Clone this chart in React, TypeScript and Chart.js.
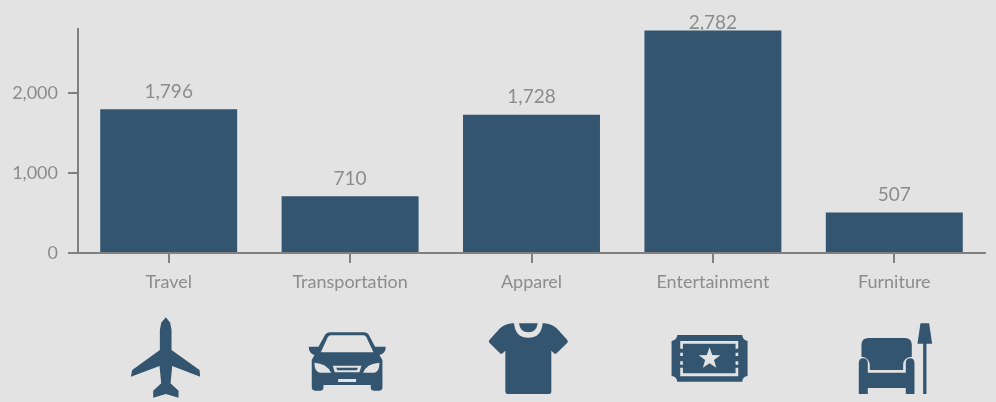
import React, { useEffect, useRef } from "react";
import { Chart, registerables } from "chart.js";

Chart.register(...registerables);

const categories = ["Travel", "Transportation", "Apparel", "Entertainment", "Furniture"];
const amounts = [1796, 710, 1728, 2782, 507];
const yTicks = [0, 1000, 2000];

const BG = "#e3e3e3";
const BAR = "#33556f";
const AXIS = "#808080";
const TEXT = "#8c8c8c";
const FONT = "Lato";

type Layer = { d: string; c: string };
type Icon = { anchor: number; layers: Layer[] };

const starPath = (() => {
  const cx = 749, cy = 176, R = 34, r = 14;
  let d = "";
  for (let i = 0; i < 10; i++) {
    const a = -Math.PI / 2 + (i * Math.PI) / 5;
    const q = i % 2 ? r : R;
    d += `${i ? "L" : "M"}${cx + q * Math.cos(a)},${cy + q * Math.sin(a)} `;
  }
  return d + "Z";
})();

const icons: Icon[] = [
  {
    anchor: 205.5,
    layers: [
      {
        c: BAR,
        d: "M197,52 L183,68 L179,90 L179,150 L96,210 L92,230 L178,198 L183,250 L159,272 L159,293 L197,282 L235,293 L235,272 L211,250 L216,198 L300,230 L298,210 L214,150 L214,90 L210,68 Z",
      },
    ],
  },
  {
    anchor: 750,
    layers: [
      {
        c: BAR,
        d: "M690,97 L792,97 Q803,97 808,108 L825,140 L857,140 Q857,160 838,165 L847,180 L847,262 Q847,272 838,272 L820,272 Q812,272 812,262 L812,255 L670,255 L670,262 Q670,272 662,272 L645,272 Q635,272 635,262 L635,180 L643,165 Q626,160 626,140 L655,140 L673,108 Q678,97 690,97 Z",
      },
      { c: BG, d: "M692,106 L790,106 Q796,106 799,112 L820,157 L662,157 L683,112 Q686,106 692,106 Z" },
      { c: BG, d: "M643,188 Q680,190 693,218 L660,218 Q643,215 643,188 Z" },
      { c: BG, d: "M838,188 Q800,190 789,218 L822,218 Q838,215 838,188 Z" },
      { c: BG, d: "M698,197 L784,197 L778,217 L704,217 Z" },
      { c: BAR, d: "M708,203 L774,203 L770,211 L712,211 Z" },
      { c: BG, d: "M714,237 L768,237 L768,246 L714,246 Z" },
    ],
  },
  {
    anchor: 214.5,
    layers: [
      {
        c: BAR,
        d: "M158,70 Q135,72 120,85 L88,120 Q85,125 88,128 L120,160 Q125,163 128,160 L136,152 L136,275 Q136,282 143,282 L267,282 Q274,282 274,275 L274,152 L282,160 Q285,163 290,160 L322,128 Q325,125 322,120 L290,85 Q275,72 252,70 Z",
      },
      { c: BG, d: "M162,68 Q165,113 205,113 Q245,113 248,68 Z" },
      { c: BAR, d: "M177,70 Q180,97 205,97 Q230,97 233,70 Z" },
    ],
  },
  {
    anchor: 759,
    layers: [
      {
        c: BAR,
        d: "M652,105 L847,105 Q848,120 863,123 L863,228 Q848,230 847,245 L652,245 Q651,230 635,228 L635,123 Q651,120 652,105 Z",
      },
      {
        c: BG,
        d: "M661,123 L835,123 L835,146 L827,146 L827,131 L669,131 L669,146 L661,146 Z M661,203 L669,203 L669,220 L827,220 L827,203 L835,203 L835,229 L661,229 Z M661,158 L669,158 L669,168 L661,168 Z M661,184 L669,184 L669,194 L661,194 Z M827,158 L835,158 L835,168 L827,168 Z M827,184 L835,184 L835,194 L827,194 Z",
      },
      { c: BG, d: starPath },
    ],
  },
  {
    anchor: 1303.5,
    layers: [
      {
        c: BAR,
        d: "M1205,170 L1205,135 Q1205,114 1226,114 L1335,114 Q1356,114 1356,135 L1356,170 Q1330,172 1330,195 L1330,210 L1230,210 L1230,195 Q1228,172 1205,170 Z",
      },
      {
        c: BAR,
        d: "M1197,190 Q1197,175 1210,175 Q1224,175 1224,190 L1224,218 L1338,218 L1338,190 Q1338,175 1351,175 Q1364,175 1364,190 L1364,282 L1338,282 L1338,264 L1224,264 L1224,282 L1197,282 Z",
      },
      { c: BAR, d: "M1382,70 L1408,70 L1417,131 L1373,131 Z M1390,131 L1400,131 L1400,282 L1390,282 Z" },
    ],
  },
];

const valueLabels = {
  id: "valueLabels",
  afterDatasetsDraw(chart: any) {
    const { ctx, chartArea } = chart;
    const meta = chart.getDatasetMeta(0);
    ctx.save();
    ctx.font = `400 19px ${FONT}`;
    ctx.fillStyle = TEXT;
    ctx.textAlign = "center";
    ctx.textBaseline = "alphabetic";
    meta.data.forEach((bar: any, i: number) => {
      ctx.fillText(amounts[i].toLocaleString("en-US"), bar.x, Math.max(bar.y - 11.5, chartArea.top));
    });
    ctx.restore();
  },
};

const categoryIcons = {
  id: "categoryIcons",
  afterDraw(chart: any) {
    const { ctx, scales, chartArea } = chart;
    icons.forEach((icon, i) => {
      ctx.save();
      ctx.translate(scales.x.getPixelForTick(i), chartArea.bottom + 47);
      ctx.scale(1 / 3, 1 / 3);
      ctx.translate(-icon.anchor, 0);
      icon.layers.forEach((l) => {
        ctx.fillStyle = l.c;
        ctx.fill(new Path2D(l.d));
      });
      ctx.restore();
    });
  },
};

export default function App() {
  const ref = useRef<HTMLCanvasElement>(null);
  useEffect(() => {
    document.body.style.margin = "0";
    document.body.style.background = BG;
    const chart = new Chart(ref.current!, {
      type: "bar",
      data: {
        labels: categories,
        datasets: [
          {
            data: amounts,
            backgroundColor: BAR,
            barPercentage: 0.755,
            categoryPercentage: 1,
          },
        ],
      },
      plugins: [valueLabels, categoryIcons],
      options: {
        animation: false,
        responsive: false,
        devicePixelRatio: 1,
        layout: { padding: { top: 29, right: 11, left: 0, bottom: 0 } },
        plugins: { legend: { display: false }, title: { display: false }, tooltip: { enabled: false } },
        scales: {
          x: {
            afterFit: (s: any) => {
              s.height = 149;
            },
            border: { color: AXIS, width: 2 },
            grid: { offset: false, drawOnChartArea: false, drawTicks: true, tickLength: 10, color: AXIS, lineWidth: 2 },
            ticks: {
              color: TEXT,
              font: { family: FONT, size: 18, weight: "400" as any },
              padding: 8,
              maxRotation: 0,
              autoSkip: false,
            },
          },
          y: {
            min: 0,
            max: 2800,
            afterFit: (s: any) => {
              s.width = 78;
            },
            afterBuildTicks: (s: any) => {
              s.ticks = yTicks.map((value) => ({ value }));
            },
            border: { color: AXIS, width: 2 },
            grid: { drawOnChartArea: false, drawTicks: true, tickLength: 10, color: AXIS, lineWidth: 2 },
            ticks: {
              color: TEXT,
              font: { family: FONT, size: 18, weight: "400" as any },
              padding: 10,
              callback: (v: any) => Number(v).toLocaleString("en-US"),
            },
          },
        },
      },
    });
    return () => chart.destroy();
  }, []);
  return (
    <div style={{ position: "fixed", left: 0, top: 0, width: 996, height: 402, background: BG }}>
      <canvas ref={ref} width={996} height={402} style={{ display: "block" }} />
    </div>
  );
}
